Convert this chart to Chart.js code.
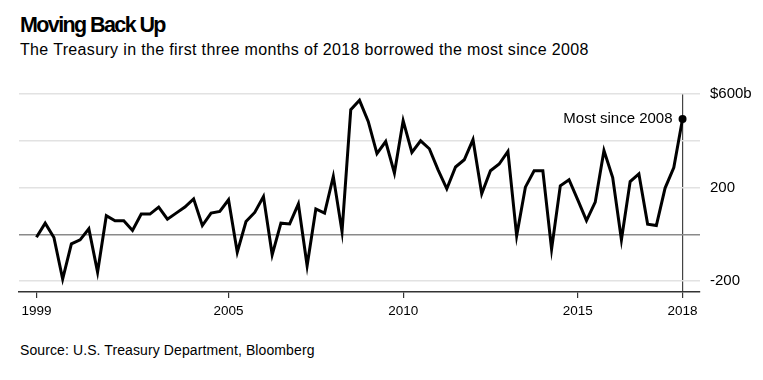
<!DOCTYPE html>
<html>
<head>
<meta charset="utf-8">
<script src="https://cdn.jsdelivr.net/npm/chart.js@4"></script>
<style>
  html, body { margin: 0; padding: 0; background: #fff; }
  body { width: 763px; height: 380px; position: relative; overflow: hidden; font-family: "Liberation Sans", Arial, sans-serif; color: #000; }
  .t { position: absolute; left: 20px; white-space: nowrap; }
  #title { top: 14px; font-size: 21.5px; line-height: 22px; font-weight: bold; letter-spacing: -1.6px; }
  #sub { top: 42px; font-size: 16px; line-height: 16px; letter-spacing: 0.35px; }
  #src { top: 343px; font-size: 14px; line-height: 14px; letter-spacing: 0.1px; }
  #c { position: absolute; left: 0; top: 0; }
</style>
</head>
<body>
<div class="t" id="title">Moving Back Up</div>
<div class="t" id="sub">The Treasury in the first three months of 2018 borrowed the most since 2008</div>
<div class="t" id="src">Source: U.S. Treasury Department, Bloomberg</div>
<canvas id="c" width="763" height="380"></canvas>
<script>
// Quarterly net borrowing, $ billions, 1999 Q3 .. 2018 Q1
const borrowing = [
  -12, 48, -13, -191, -40, -23, 24, -161, 80, 58,
  58, 17, 87, 87, 117, 65, 91, 117, 152, 38,
  91, 98, 148, -76, 55, 94, 162, -87, 48, 45,
  130, -134, 109, 91, 248, 12, 533, 573, 483, 345,
  397, 262, 486, 350, 400, 366, 276, 195, 288, 319,
  405, 174, 272, 301, 355, -6, 202, 272, 272, -63,
  208, 234, 148, 59, 138, 358, 243, -23, 226, 259,
  44, 38, 198, 286, 493
];
const startYear = 1999, startQuarter = 3;
const quarters = borrowing.map((_, i) => {
  const q = startQuarter - 1 + i;
  return (startYear + Math.floor(q / 4)) + ' Q' + (q % 4 + 1);
});
const xTickLabels = ['1999', '2005', '2010', '2015', '2018'];
const xTickQuarters = ['1999 Q3', '2005 Q1', '2010 Q1', '2015 Q1', '2018 Q1'];
const yTickValues = [-200, 0, 200, 400, 600];
const yTickLabels = { '600': '$600b', '200': '200', '-200': '-200' };
const annotationText = 'Most since 2008';

const lastIdx = borrowing.length - 1;
const xTickIdx = xTickQuarters.map(q => quarters.indexOf(q));

const annotate = {
  id: 'annotate',
  afterDatasetsDraw(chart) {
    const meta = chart.getDatasetMeta(0);
    const pt = meta.data[lastIdx];
    const ctx = chart.ctx;
    ctx.save();
    ctx.font = '15px "Liberation Sans", Arial, sans-serif';
    ctx.fillStyle = '#000';
    ctx.textAlign = 'right';
    ctx.textBaseline = 'middle';
    ctx.fillText(annotationText, pt.x - 10, pt.y);
    ctx.restore();
  }
};

new Chart(document.getElementById('c'), {
  type: 'line',
  data: {
    datasets: [{
      data: borrowing.map((v, i) => ({ x: i, y: v })),
      borderColor: '#000',
      backgroundColor: '#000',
      borderWidth: 3,
      tension: 0,
      pointRadius: ctx => ctx.dataIndex === lastIdx ? 4 : 0,
      pointHoverRadius: 0,
      pointBackgroundColor: '#000',
      pointBorderWidth: 0,
      borderJoinStyle: 'miter',
      clip: false
    }]
  },
  options: {
    responsive: false,
    animation: false,
    events: [],
    layout: { padding: { left: 19, top: 94, right: 0, bottom: 58 } },
    plugins: { legend: { display: false }, tooltip: { enabled: false } },
    scales: {
      x: {
        type: 'linear',
        min: -2,
        max: 76,
        afterBuildTicks: s => { s.ticks = xTickIdx.map(v => ({ value: v })); },
        afterFit: s => { s.height = 30; },
        ticks: {
          autoSkip: false,
          maxRotation: 0,
          padding: 5,
          color: '#000',
          font: { size: 13.5, family: '"Liberation Sans", Arial, sans-serif' },
          callback: (v) => xTickLabels[xTickIdx.indexOf(v)]
        },
        grid: {
          drawOnChartArea: true,
          color: ctx => (ctx.tick && ctx.tick.value === lastIdx) ? '#444' : 'rgba(0,0,0,0)',
          tickColor: '#333',
          tickLength: 6,
          lineWidth: 1.2
        },
        border: { display: true, color: '#333', width: 1.5 }
      },
      y: {
        position: 'right',
        min: -246,
        max: 600,
        afterBuildTicks: s => { s.ticks = yTickValues.map(v => ({ value: v })); },
        afterFit: s => { s.width = 63; },
        ticks: {
          padding: 10,
          color: '#000',
          font: { size: 15, family: '"Liberation Sans", Arial, sans-serif' },
          callback: v => yTickLabels[String(v)] || ''
        },
        grid: {
          drawTicks: false,
          color: ctx => (ctx.tick && ctx.tick.value === 0) ? '#8a8a8a' : '#e2e2e2',
          lineWidth: 1.5
        },
        border: { display: false }
      }
    }
  },
  plugins: [annotate]
});
</script>
</body>
</html>
